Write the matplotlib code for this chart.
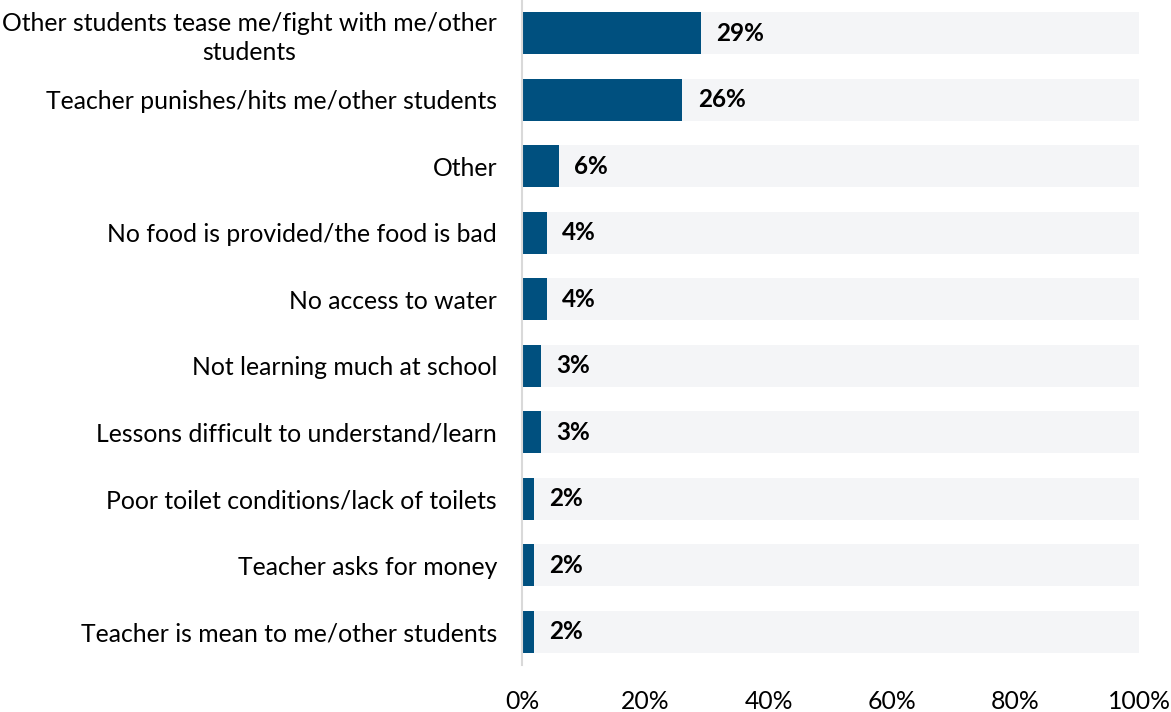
import matplotlib.pyplot as plt

categories = [
    "Other students tease me/fight with me/other\nstudents",
    "Teacher punishes/hits me/other students",
    "Other",
    "No food is provided/the food is bad",
    "No access to water",
    "Not learning much at school",
    "Lessons difficult to understand/learn",
    "Poor toilet conditions/lack of toilets",
    "Teacher asks for money",
    "Teacher is mean to me/other students",
]
values = [29, 26, 6, 4, 4, 3, 3, 2, 2, 2]
xticks = [0, 20, 40, 60, 80, 100]
xtick_labels = ["0%", "20%", "40%", "60%", "80%", "100%"]

plt.rcParams["font.family"] = ["Lato", "DejaVu Sans"]

fig = plt.figure(figsize=(11.71, 7.12), dpi=100)
ax = fig.add_axes([522 / 1171, 47 / 712, 617 / 1171, 665 / 712])

y = list(range(len(categories)))
bar_h = 0.63
ax.barh(y, [100] * len(y), height=bar_h, color="#F4F5F7", zorder=1)
ax.barh(y, values, height=bar_h, color="#00507F", zorder=2)

for yi, v in zip(y, values):
    ax.annotate(f"{v}%", xy=(v, yi), xytext=(11, 0), textcoords="offset points",
                va="center", ha="left", fontsize=17.5, fontweight="bold", color="#000000")

ax.set_xlim(0, 100)
ax.set_ylim(len(categories) - 0.5, -0.5)
ax.set_yticks(y)
ax.set_yticklabels(categories, fontsize=17.8, color="#000000", ha="right")
ax.set_xticks(xticks)
ax.set_xticklabels(xtick_labels, fontsize=17.8, color="#000000")
for lbl in ax.get_yticklabels():
    lbl.set_multialignment("center")
    lbl.set_linespacing(1.3)

ax.tick_params(axis="both", length=0)
ax.tick_params(axis="y", pad=18)
ax.tick_params(axis="x", pad=18)
for side in ["top", "right", "bottom"]:
    ax.spines[side].set_visible(False)
ax.spines["left"].set_color("#D9D9D9")
ax.spines["left"].set_linewidth(1.5)
ax.spines["left"].set_zorder(3)

fig.savefig("out.png", dpi=100)
